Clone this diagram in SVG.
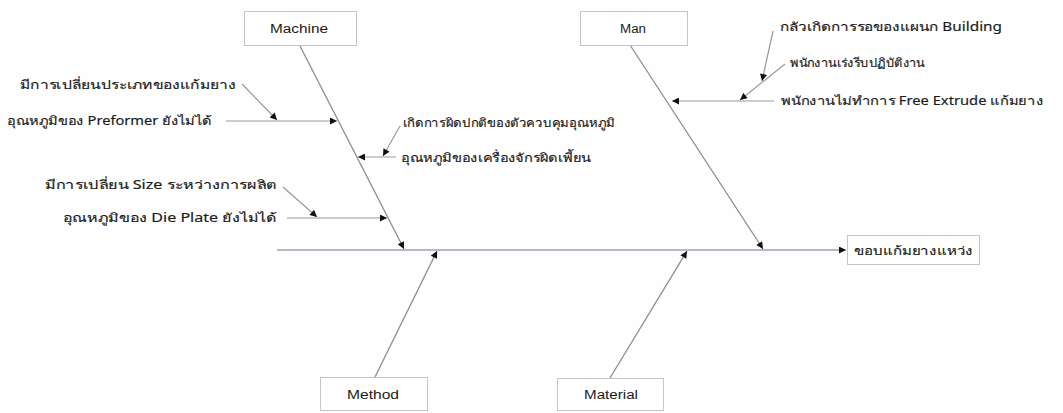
<svg xmlns="http://www.w3.org/2000/svg" width="1063" height="413" viewBox="0 0 1063 413">
  <style>
    .box { fill: #ffffff; stroke: #c4c4c4; stroke-width: 1; }
    .lbl { font-family: "Liberation Sans", Arial, sans-serif; font-size: 12.5px; fill: #1a1a1a; }
    .th { font-family: "Noto Sans", "DejaVu Sans", sans-serif; font-size: 12px; fill: #1a1a1a; stroke: #1a1a1a; stroke-width: 0.15; }
    .spine { stroke: #b4b9cc; stroke-width: 2; fill: none; }
    .bone { stroke: #8c8c8c; stroke-width: 1.3; fill: none; }
    .sub { stroke: #9a9a9a; stroke-width: 1.2; fill: none; }
  </style>
  <defs>
    <marker id="ah" viewBox="0 0 10 10" refX="10" refY="5" markerWidth="9" markerHeight="7" markerUnits="userSpaceOnUse" orient="auto">
      <path d="M0,0 L10,5 L0,10 z" fill="#111"/>
    </marker>
  </defs>
  <rect width="1063" height="413" fill="#fefefe"/>

  <!-- connectors: spine, category bones and cause arrows -->
  <g id="connectors">
    <line class="spine" x1="277" y1="250" x2="846" y2="250" marker-end="url(#ah)"/>
    <line class="bone" x1="300" y1="46" x2="404" y2="249" marker-end="url(#ah)"/>
    <line class="bone" x1="630" y1="45" x2="763" y2="249" marker-end="url(#ah)"/>
    <line class="bone" x1="375" y1="377" x2="437" y2="251" marker-end="url(#ah)"/>
    <line class="bone" x1="610" y1="378" x2="687" y2="251" marker-end="url(#ah)"/>

    <!-- Machine causes -->
    <line class="sub" x1="226" y1="121" x2="337" y2="121" marker-end="url(#ah)"/>
    <line class="sub" x1="242" y1="84" x2="277" y2="120" marker-end="url(#ah)"/>
    <line class="sub" x1="396" y1="157" x2="358" y2="157" marker-end="url(#ah)"/>
    <line class="sub" x1="400" y1="126" x2="383" y2="156" marker-end="url(#ah)"/>
    <line class="sub" x1="287" y1="218" x2="387" y2="218" marker-end="url(#ah)"/>
    <line class="sub" x1="283" y1="187" x2="317" y2="217" marker-end="url(#ah)"/>

    <!-- Man causes -->
    <line class="sub" x1="774" y1="101" x2="672" y2="101" marker-end="url(#ah)"/>
    <line class="sub" x1="785" y1="64" x2="740" y2="100" marker-end="url(#ah)"/>
    <line class="sub" x1="773" y1="31" x2="762" y2="81" marker-end="url(#ah)"/>
  </g>

  <!-- category boxes -->
  <g id="machine">
    <rect class="box" x="244.5" y="11.5" width="112" height="34"/>
    <text class="lbl" x="270" y="33" textLength="58" lengthAdjust="spacingAndGlyphs">Machine</text>
  </g>
  <g id="man">
    <rect class="box" x="580.5" y="11.5" width="107" height="34"/>
    <text class="lbl" x="620" y="33" textLength="26" lengthAdjust="spacingAndGlyphs">Man</text>
  </g>
  <g id="method">
    <rect class="box" x="320.5" y="377.5" width="107" height="33"/>
    <text class="lbl" x="347" y="399" textLength="52" lengthAdjust="spacingAndGlyphs">Method</text>
  </g>
  <g id="material">
    <rect class="box" x="557.5" y="378.5" width="106" height="32"/>
    <text class="lbl" x="584" y="399" textLength="54" lengthAdjust="spacingAndGlyphs">Material</text>
  </g>
  <g id="effect">
    <rect class="box" x="847.5" y="235.5" width="132" height="29"/>
    <text class="th" x="854" y="255" textLength="119" lengthAdjust="spacingAndGlyphs">ขอบแก้มยางแหว่ง</text>
  </g>

  <!-- cause labels -->
  <g id="cause-machine-1"><text class="th" x="20" y="89" textLength="216" lengthAdjust="spacingAndGlyphs">มีการเปลี่ยนประเภทของแก้มยาง</text></g>
  <g id="cause-machine-2"><text class="th" x="7" y="125" textLength="205" lengthAdjust="spacingAndGlyphs">อุณหภูมิของ Preformer ยังไม่ได้</text></g>
  <g id="cause-machine-3"><text class="th" x="403" y="127" textLength="212" lengthAdjust="spacingAndGlyphs">เกิดการผิดปกติของตัวควบคุมอุณหภูมิ</text></g>
  <g id="cause-machine-4"><text class="th" x="401" y="162" textLength="190" lengthAdjust="spacingAndGlyphs">อุณหภูมิของเครื่องจักรผิดเพี้ยน</text></g>
  <g id="cause-machine-5"><text class="th" x="45" y="189" textLength="232" lengthAdjust="spacingAndGlyphs">มีการเปลี่ยน Size ระหว่างการผลิต</text></g>
  <g id="cause-machine-6"><text class="th" x="63" y="222" textLength="214" lengthAdjust="spacingAndGlyphs">อุณหภูมิของ Die Plate ยังไม่ได้</text></g>
  <g id="cause-man-1"><text class="th" x="780" y="31" textLength="222" lengthAdjust="spacingAndGlyphs">กลัวเกิดการรอของแผนก Building</text></g>
  <g id="cause-man-2"><text class="th" x="790" y="67" textLength="135" lengthAdjust="spacingAndGlyphs">พนักงานเร่งรีบปฏิบัติงาน</text></g>
  <g id="cause-man-3"><text class="th" x="781" y="105" textLength="262" lengthAdjust="spacingAndGlyphs">พนักงานไม่ทำการ Free Extrude แก้มยาง</text></g>
</svg>
